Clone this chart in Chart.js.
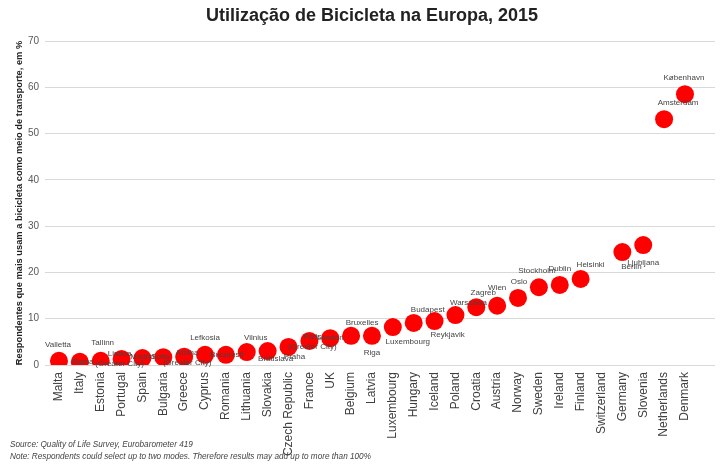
<!DOCTYPE html>
<html>
<head>
<meta charset="utf-8">
<title>Utilização de Bicicleta na Europa, 2015</title>
<script src="https://cdn.jsdelivr.net/npm/chart.js@4/dist/chart.umd.min.js"></script>
<style>
  html, body { margin: 0; padding: 0; background: #fff; }
</style>
</head>
<body>
<canvas id="bikeChart" width="726" height="467"></canvas>
<script>
// Share of respondents using the bicycle as main transport (%), by country capital
const countries = ['Malta', 'Italy', 'Estonia', 'Portugal', 'Spain', 'Bulgaria', 'Greece', 'Cyprus',
    'Romania', 'Lithuania', 'Slovakia', 'Czech Republic', 'France', 'UK', 'Belgium', 'Latvia',
    'Luxembourg', 'Hungary', 'Iceland', 'Poland', 'Croatia', 'Austria', 'Norway', 'Sweden',
    'Ireland', 'Finland', 'Switzerland', 'Germany', 'Slovenia', 'Netherlands', 'Denmark'];

const cities = ['Valletta', 'Roma', 'Tallinn', 'Lisboa (Greater City)', 'Madrid', 'Sofia',
    'Athina (Greater City)', 'Lefkosia', 'Bucuresti', 'Vilnius', 'Bratislava', 'Praha',
    'Paris (Greater City)', 'London', 'Bruxelles', 'Riga', 'Luxembourg', 'Budapest', 'Reykjavik',
    'Warszawa', 'Zagreb', 'Wien', 'Oslo', 'Stockholm', 'Dublin', 'Helsinki', '', 'Berlin',
    'Ljubljana', 'Amsterdam', 'København'];

const bikeShare = [0.9, 0.7, 0.9, 1.3, 1.5, 1.7, 1.8, 2.2, 2.2, 2.8, 3.0, 3.9, 5.2, 5.8, 6.3, 6.3,
    8.2, 9.1, 9.5, 10.8, 12.5, 12.8, 14.5, 16.8, 17.3, 18.6, null, 24.4, 25.9, 53.1, 58.5];

const yTicks = [0, 10, 20, 30, 40, 50, 60, 70];

const FONT = "'Liberation Sans', Arial, sans-serif";

// where each city name sits relative to its dot [dx, dy]
const cityOffsets = {
    'Valletta': [-1, -16], 'Roma': [3, 0], 'Tallinn': [2, -18], 'Lisboa': [-2, 0],
    'Madrid': [0, -1], 'Sofia': [-3, 0], 'Athina': [3, 1], 'Lefkosia': [0, -17],
    'Bucuresti': [1, 0], 'Vilnius': [9, -14], 'Bratislava': [8, 8], 'Praha': [6, 10],
    'Paris': [3, 1], 'London': [0, 0], 'Bruxelles': [11, -13], 'Riga': [0, 17],
    'Luxembourg': [15, 15], 'Budapest': [14, -13], 'Reykjavik': [13, 14], 'Warszawa': [13, -12],
    'Zagreb': [7, -14], 'Wien': [0, -18], 'Oslo': [1, -16], 'Stockholm': [-2, -16],
    'Dublin': [0, -16], 'Helsinki': [10, -14], 'Berlin': [9, 15], 'Ljubljana': [0, 18],
    'Amsterdam': [14, -16], 'København': [-1, -16]
};

const cityLabels = {
    id: 'cityLabels',
    afterDatasetsDraw(chart) {
        const ctx = chart.ctx;
        const points = chart.getDatasetMeta(0).data;
        ctx.save();
        ctx.font = '8px ' + FONT;
        ctx.fillStyle = '#444';
        ctx.textAlign = 'center';
        ctx.textBaseline = 'middle';
        points.forEach((pt, i) => {
            if (bikeShare[i] === null || !cities[i]) return;
            const lines = cities[i].replace(' (', '\n(').split('\n');
            const off = cityOffsets[lines[0]] || [0, -16];
            const lh = 9.5;
            const top = pt.y + off[1] - (lines.length - 1) * lh / 2;
            lines.forEach((txt, k) => ctx.fillText(txt, pt.x + off[0], top + k * lh));
        });
        ctx.restore();
    }
};

const pageText = {
    id: 'pageText',
    afterDraw(chart) {
        const ctx = chart.ctx;
        ctx.save();
        ctx.fillStyle = '#222';
        ctx.font = 'bold 18px ' + FONT;
        ctx.textAlign = 'center';
        ctx.textBaseline = 'middle';
        ctx.fillText('Utilização de Bicicleta na Europa, 2015', 372, 16);

        ctx.fillStyle = '#444';
        ctx.font = 'italic 8.2px ' + FONT;
        ctx.textAlign = 'left';
        ctx.fillText('Source: Quality of Life Survey, Eurobarometer 419', 10, 445);
        ctx.fillText('Note: Respondents could select up to two modes. Therefore results may add up to more than 100%', 10, 457);
        ctx.restore();
    }
};

new Chart(document.getElementById('bikeChart'), {
    type: 'scatter',
    data: {
        datasets: [{
            label: 'Bicicleta',
            data: bikeShare.map((v, i) => ({ x: i + 1, y: v })),
            backgroundColor: '#ff0000',
            borderWidth: 0,
            pointRadius: 9,
            pointHoverRadius: 9
        }]
    },
    options: {
        responsive: false,
        devicePixelRatio: 1,
        animation: false,
        layout: { padding: { top: 41, right: 11, left: 0, bottom: 0 } },
        plugins: {
            legend: { display: false },
            tooltip: { enabled: false }
        },
        scales: {
            x: {
                type: 'linear',
                min: 0.33,
                max: 32.44,
                afterBuildTicks: scale => {
                    scale.ticks = countries.map((_, i) => ({ value: i + 1 }));
                },
                afterFit: scale => { scale.height = 102; },
                grid: { display: false, drawTicks: false },
                border: { display: false },
                ticks: {
                    autoSkip: false,
                    minRotation: 90,
                    maxRotation: 90,
                    padding: 7,
                    color: '#404040',
                    font: { family: FONT, size: 12 },
                    callback: value => countries[value - 1]
                }
            },
            y: {
                min: 0,
                max: 70,
                afterBuildTicks: scale => {
                    scale.ticks = yTicks.map(v => ({ value: v }));
                },
                afterFit: scale => { scale.width = 45; },
                grid: { color: '#d9d9d9', drawTicks: false },
                border: { display: false },
                ticks: {
                    padding: 6,
                    color: '#595959',
                    font: { family: FONT, size: 10 }
                },
                title: {
                    display: true,
                    text: 'Respondentes que mais usam a bicicleta como meio de transporte, em %',
                    color: '#222',
                    font: { family: FONT, size: 9.3, weight: 'bold' },
                    padding: { top: 14, bottom: 0 }
                }
            }
        }
    },
    plugins: [cityLabels, pageText]
});
</script>
</body>
</html>
